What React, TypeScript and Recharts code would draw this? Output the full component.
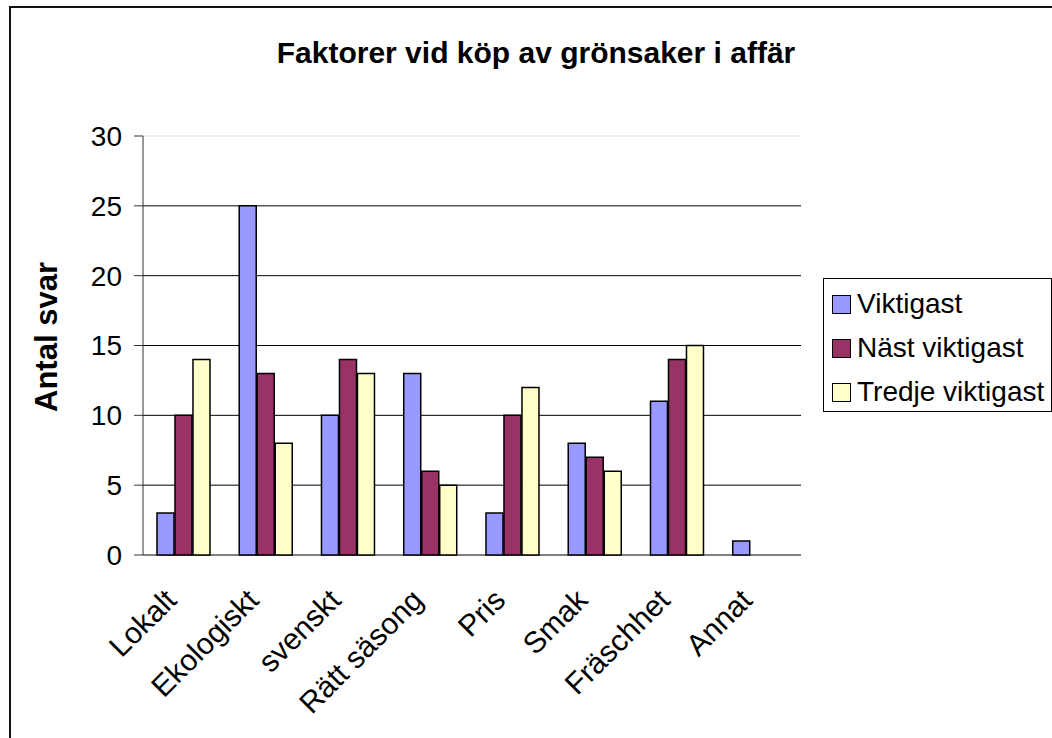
import React from "react";
import {
  BarChart,
  Bar,
  XAxis,
  YAxis,
  CartesianGrid,
  Legend,
} from "recharts";

const categories = [
  "Lokalt",
  "Ekologiskt",
  "svenskt",
  "Rätt säsong",
  "Pris",
  "Smak",
  "Fräschhet",
  "Annat",
];
const viktigast = [3, 25, 10, 13, 3, 8, 11, 1];
const nastViktigast = [10, 13, 14, 6, 10, 7, 14, 0];
const tredjeViktigast = [14, 8, 13, 5, 12, 6, 15, 0];
const yTicks = [0, 5, 10, 15, 20, 25, 30];
const boundaryTicks = [0, 1, 2, 3, 4, 5, 6, 7, 8];

const series = [
  { key: "viktigast", name: "Viktigast", color: "#9999FF" },
  { key: "nast", name: "Näst viktigast", color: "#993366" },
  { key: "tredje", name: "Tredje viktigast", color: "#FFFFCC" },
];

const data = categories.map((name, i) => ({
  name,
  viktigast: viktigast[i],
  nast: nastViktigast[i],
  tredje: tredjeViktigast[i],
}));

const FONT = '"Liberation Sans", Arial, sans-serif';

function CategoryTick({ x, y, payload }: any) {
  return (
    <g transform={`translate(${x - 6},${y + 47})`}>
      <text
        textAnchor="end"
        transform="rotate(-45)"
        fontSize={30}
        fontFamily={FONT}
        fill="#000"
      >
        {payload.value}
      </text>
    </g>
  );
}

function GridLine(props: any) {
  // top line (30) is drawn light gray like the plot area border
  const isTop = props.index === yTicks.length - 1;
  return (
    <line
      x1={props.x1}
      y1={props.y1}
      x2={props.x2}
      y2={props.y2}
      stroke={isTop ? "#dddddd" : "#000"}
      strokeWidth={1}
    />
  );
}

function LegendBox() {
  return (
    <div
      style={{
        border: "1px solid #000",
        background: "#fff",
        padding: "3px 0 0 8px",
        height: 134,
        boxSizing: "border-box",
        fontFamily: FONT,
        fontSize: 28,
        color: "#000",
      }}
    >
      {series.map((s) => (
        <div
          key={s.key}
          style={{ display: "flex", alignItems: "center", height: 44 }}
        >
          <span
            style={{
              width: 17,
              height: 17,
              background: s.color,
              border: "1.5px solid #000",
              marginRight: 6,
              flex: "none",
            }}
          />
          <span style={{ whiteSpace: "nowrap" }}>{s.name}</span>
        </div>
      ))}
    </div>
  );
}

export default function App() {
  return (
    <div
      style={{
        position: "absolute",
        left: 0,
        top: 0,
        width: 1052,
        height: 738,
        overflow: "hidden",
        background: "#fff",
        fontFamily: FONT,
      }}
    >
      <div
        style={{
          position: "absolute",
          left: 9,
          top: 6,
          width: 1200,
          height: 900,
          borderTop: "2px solid #111",
          borderLeft: "2px solid #111",
        }}
      />
      <div
        style={{
          position: "absolute",
          left: 186,
          width: 700,
          top: 36,
          textAlign: "center",
          fontWeight: "bold",
          fontSize: 30,
          whiteSpace: "nowrap",
          zIndex: 2,
        }}
      >
        Faktorer vid köp av grönsaker i affär
      </div>
      <div
        style={{
          position: "absolute",
          left: 47 - 100,
          top: 337 - 18,
          width: 200,
          height: 36,
          lineHeight: "36px",
          textAlign: "center",
          fontWeight: "bold",
          fontSize: 31,
          transform: "rotate(-90deg)",
          whiteSpace: "nowrap",
          zIndex: 2,
        }}
      >
        Antal svar
      </div>
      <div style={{ position: "absolute", left: 0, top: 0 }}>
        <BarChart
          width={1052}
          height={738}
          data={data}
          margin={{ top: 136, right: 251, bottom: 23, left: 73 }}
          barCategoryGap="17%"
          barGap={1}
        >
          <CartesianGrid
            xAxisId="cat"
            vertical={false}
            horizontal={GridLine}
          />
          <XAxis
            xAxisId="ticks"
            type="number"
            domain={[0, 8]}
            ticks={boundaryTicks}
            allowDataOverflow
            height={0}
            tick={false}
            tickSize={10}
            tickLine={{ stroke: "#333" }}
            axisLine={{ stroke: "#333" }}
          />
          <XAxis
            xAxisId="cat"
            dataKey="name"
            height={160}
            interval={0}
            axisLine={false}
            tickLine={false}
            tickSize={0}
            tickMargin={0}
            tick={<CategoryTick />}
          />
          <YAxis
            width={70}
            domain={[0, 30]}
            ticks={yTicks}
            interval={0}
            tickSize={9}
            tickMargin={12}
            tick={{ fill: "#000", fontSize: 28, fontFamily: FONT }}
            tickLine={{ stroke: "#333" }}
            axisLine={{ stroke: "#333" }}
          />
          <Legend
            layout="horizontal"
            verticalAlign="middle"
            align="center"
            wrapperStyle={{ left: 823, top: 278, width: 229 }}
            content={<LegendBox />}
          />
          {series.map((s) => (
            <Bar
              key={s.key}
              xAxisId="cat"
              dataKey={s.key}
              name={s.name}
              fill={s.color}
              stroke="#000"
              strokeWidth={1.5}
              isAnimationActive={false}
            />
          ))}
        </BarChart>
      </div>
    </div>
  );
}
